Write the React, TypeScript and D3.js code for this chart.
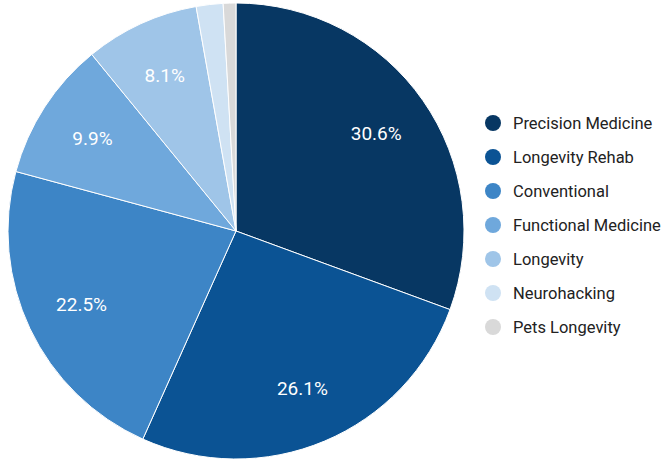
import React from "react";
import * as d3 from "d3";

const categories = ["Precision Medicine", "Longevity Rehab", "Conventional", "Functional Medicine", "Longevity", "Neurohacking", "Pets Longevity"];
const values = [30.6, 26.1, 22.5, 9.9, 8.1, 1.9, 0.9];
const colors = ["#073763", "#0b5394", "#3d85c6", "#6fa8dc", "#9fc5e8", "#cfe2f3", "#d9d9d9"];
const labelMin = 5;

export default function App() {
  const width = 664, height = 460;
  const cx = 236, cy = 231, r = 228;
  const data = categories.map((c, i) => ({ c, v: values[i], col: colors[i] }));
  const pie = d3.pie<any>().value((d: any) => d.v).sort(null);
  const arcs = pie(data);
  const arc = d3.arc<any>().innerRadius(0).outerRadius(r);
  const labelArc = d3.arc<any>().innerRadius(r * 0.75).outerRadius(r * 0.75);
  const total = d3.sum(values);
  const legendY = d3.scalePoint<number>().domain(d3.range(categories.length)).range([123, 327]);
  return (
    <svg width={width} height={height} style={{ position: "absolute", left: 0, top: 0, fontFamily: "Roboto, sans-serif" }}>
      <g transform={`translate(${cx},${cy})`}>
        {arcs.map((a, i) => (
          <path key={i} d={arc(a) as string} fill={a.data.col} stroke="#fff" strokeWidth={1} />
        ))}
        {arcs.map((a, i) => {
          const pct = (a.data.v / total) * 100;
          if (pct < labelMin) return null;
          const [x, y] = labelArc.centroid(a);
          return (
            <text key={i} x={x} y={y} dy="0.35em" textAnchor="middle" fill="#fff" fontSize={19}>
              {a.data.v.toFixed(1)}%
            </text>
          );
        })}
      </g>
      {categories.map((c, i) => (
        <g key={c} transform={`translate(0,${legendY(i)})`}>
          <circle cx={493} cy={0} r={8} fill={colors[i]} />
          <text x={513} y={0} dy="0.35em" fontSize={16.5} fill="#222">{c}</text>
        </g>
      ))}
    </svg>
  );
}
